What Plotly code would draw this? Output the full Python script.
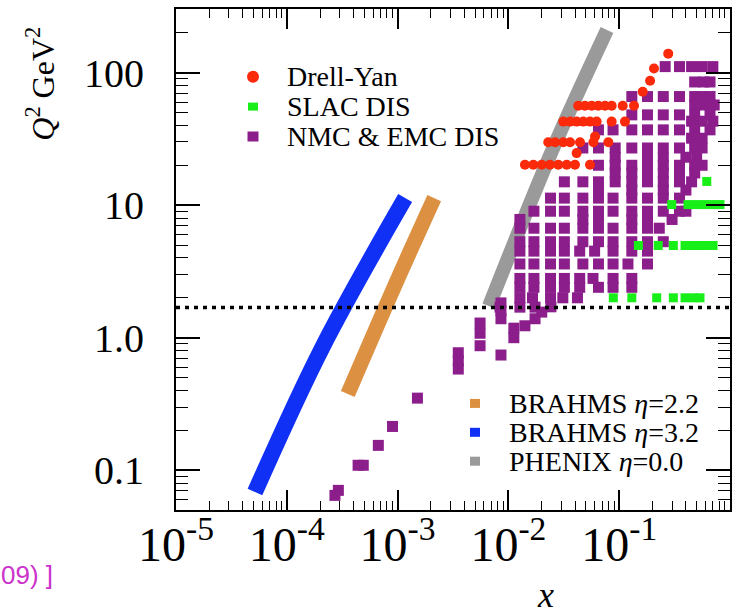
import plotly.graph_objects as go

# ---------------- data ----------------
# BRAHMS / PHENIX kinematic bands (x, Q^2 along the band centre)
brahms32_x = [5.16e-5, 2.09e-4, 1.17e-3]
brahms32_q2 = [0.0685, 0.843, 11.3]
brahms22_x = [3.55e-4, 9.82e-4, 2.14e-3]
brahms22_q2 = [0.376, 2.67, 11.3]
phenix_x = [6.68e-3, 0.0246, 0.0776]
phenix_q2 = [1.73, 25.4, 210]

# Drell-Yan
dy_x = [0.0141, 0.0168, 0.0200, 0.0237, 0.0282, 0.0336, 0.0399, 0.0545,
        0.0413,
        0.0229, 0.0264, 0.0313, 0.0360, 0.0443, 0.0585, 0.0798, 0.0605,
        0.0313, 0.0360, 0.0413, 0.0474, 0.0545, 0.0626, 0.0855, 0.1127,
        0.0427, 0.0491, 0.0565, 0.0648, 0.0745, 0.0855, 0.1076, 0.136,
        0.163, 0.190, 0.206, 0.277]
dy_q2 = [20.2, 20.2, 20.2, 20.2, 20.2, 20.2, 20.2, 20.2,
         24.7,
         29.8, 29.8, 29.8, 29.8, 29.8, 29.8, 29.8, 33.0,
         42.7, 42.7, 42.7, 42.7, 42.7, 42.7, 42.7, 42.7,
         56.3, 56.3, 56.3, 56.3, 56.3, 56.3, 56.3, 56.3,
         71.8, 86.9, 107.5, 139.0]

# SLAC DIS
slac_x = [0.617,
          0.298, 0.418, 0.493, 0.582, 0.688, 0.812,
          0.149, 0.225, 0.308, 0.393, 0.454, 0.525, 0.607, 0.703,
          0.0885, 0.130, 0.218, 0.308, 0.393, 0.467, 0.536]
slac_q2 = [15.1,
           10.1, 10.1, 10.1, 10.1, 10.1, 10.1,
           4.96, 4.96, 4.96, 4.96, 4.96, 4.96, 4.96, 4.96,
           2.0, 2.0, 2.0, 2.0, 2.0, 2.0, 2.0]

# NMC & EMC DIS
nmc_x = [
    0.26, 0.35, 0.45, 0.56, 0.70,
    0.48, 0.58, 0.66,
    0.13, 0.18, 0.25, 0.35, 0.48, 0.56, 0.66,
    0.48, 0.56, 0.66, 0.72,
    0.13, 0.18, 0.25, 0.35, 0.48, 0.66,
    0.45, 0.56, 0.70,
    0.065, 0.088, 0.13, 0.18, 0.25, 0.35, 0.48, 0.66,
    0.45, 0.56,
    0.047, 0.065, 0.092, 0.13, 0.18, 0.25, 0.35, 0.48, 0.56,
    0.092, 0.18, 0.25, 0.40, 0.50,
    0.065, 0.092, 0.13, 0.18, 0.25, 0.35, 0.48, 0.56,
    0.092, 0.13, 0.18, 0.25, 0.35, 0.48,
    0.032, 0.047, 0.065, 0.092, 0.13, 0.18, 0.25, 0.35, 0.45,
    0.065, 0.13, 0.25, 0.40,
    0.024, 0.032, 0.047, 0.065, 0.088, 0.13, 0.18, 0.25, 0.35,
    0.017, 0.024, 0.032, 0.047, 0.065, 0.088, 0.13, 0.18, 0.25, 0.35, 0.40,
    0.0127, 0.047, 0.065, 0.13, 0.18, 0.30,
    0.0127, 0.017, 0.024, 0.032, 0.047, 0.065, 0.088, 0.13, 0.18, 0.23,
    0.0127, 0.017, 0.024, 0.032, 0.047, 0.065, 0.088, 0.13, 0.18, 0.25,
    0.0127, 0.017, 0.024, 0.032, 0.044, 0.060, 0.088, 0.13, 0.18,
    0.0127, 0.017, 0.024, 0.032, 0.047, 0.065, 0.088, 0.12, 0.18,
    0.0127, 0.017, 0.024, 0.032, 0.044, 0.058, 0.088, 0.13,
    0.0127, 0.017, 0.024, 0.032, 0.044, 0.065, 0.088, 0.13,
    0.0127, 0.0165, 0.024, 0.031, 0.042,
    0.0084, 0.0127, 0.0174,
    0.0242, 0.020, 0.0174, 0.0141, 0.0112, 0.0112,
    0.00857, 0.00857, 0.00857, 0.00857,
    0.00555, 0.00555, 0.00555,
    0.00353, 0.00353, 0.00353,
    0.00151, 0.00090, 0.00067, 0.00044, 0.00049, 0.000292, 0.000272,
]
nmc_q2 = [
    111, 111, 111, 111, 111,
    85, 85, 85,
    66, 66, 66, 66, 66, 66, 66,
    57, 57, 57, 57,
    48, 48, 48, 48, 48, 48,
    43, 43, 43,
    37, 37, 37, 37, 37, 37, 37, 37,
    32, 32,
    27, 27, 27, 27, 27, 27, 27, 27, 27,
    23, 23, 23, 23, 23,
    20, 20, 20, 20, 20, 20, 20, 20,
    17.5, 17.5, 17.5, 17.5, 17.5, 17.5,
    15, 15, 15, 15, 15, 15, 15, 15, 15,
    13, 13, 13, 13,
    11.3, 11.3, 11.3, 11.3, 11.3, 11.3, 11.3, 11.3, 11.3,
    9.0, 9.0, 9.0, 9.0, 9.0, 9.0, 9.0, 9.0, 9.0, 9.0, 9.0,
    7.8, 7.8, 7.8, 7.8, 7.8, 7.8,
    6.7, 6.7, 6.7, 6.7, 6.7, 6.7, 6.7, 6.7, 6.7, 6.7,
    5.3, 5.3, 5.3, 5.3, 5.3, 5.3, 5.3, 5.3, 5.3, 5.3,
    4.5, 4.5, 4.5, 4.5, 4.5, 4.5, 4.5, 4.5, 4.5,
    3.6, 3.6, 3.6, 3.6, 3.6, 3.6, 3.6, 3.6, 3.6,
    2.8, 2.8, 2.8, 2.8, 2.8, 2.8, 2.8, 2.8,
    2.4, 2.4, 2.4, 2.4, 2.4, 2.4, 2.4, 2.4,
    2.0, 2.0, 2.0, 2.0, 2.0,
    1.7, 1.7, 1.7,
    1.71, 1.56, 1.39, 1.23, 1.18, 1.0,
    1.83, 1.60, 1.39, 0.74,
    1.29, 1.08, 0.87,
    0.77, 0.67, 0.58,
    0.35, 0.214, 0.154, 0.109, 0.109, 0.0705, 0.0646,
]

q2_cut = 1.69  # dotted line

x_tickvals = [1e-5, 1e-4, 1e-3, 1e-2, 1e-1, 1]
x_ticktext = ["10<sup>-5</sup>", "10<sup>-4</sup>", "10<sup>-3</sup>",
              "10<sup>-2</sup>", "10<sup>-1</sup>", "1"]
y_tickvals = [0.1, 1, 10, 100]
y_ticktext = ["0.1", "1.0", "10", "100"]

legend1_labels = ["Drell-Yan", "SLAC DIS", "NMC &amp; EMC DIS"]
legend2_labels = ["BRAHMS <i>η</i>=2.2", "BRAHMS <i>η</i>=3.2", "PHENIX <i>η</i>=0.0"]

# ---------------- styling ----------------
BLUE = "#1030f5"
ORANGE = "#dc9142"
GRAY = "#9a9a9a"
RED = "#fa2a0a"
GREEN = "#18ee18"
PURPLE = "#8c1e8c"
SERIF = "Liberation Serif, Times New Roman, serif"

fig = go.Figure()
fig.add_trace(go.Scatter(x=brahms32_x, y=brahms32_q2, mode="lines",
                         line=dict(color=BLUE, width=16, shape="spline"), showlegend=False))
fig.add_trace(go.Scatter(x=brahms22_x, y=brahms22_q2, mode="lines",
                         line=dict(color=ORANGE, width=15, shape="spline"), showlegend=False))
fig.add_trace(go.Scatter(x=phenix_x, y=phenix_q2, mode="lines",
                         line=dict(color=GRAY, width=14, shape="spline"), showlegend=False))
fig.add_trace(go.Scatter(x=nmc_x, y=nmc_q2, mode="markers",
                         marker=dict(symbol="square", size=11, color=PURPLE, line=dict(width=0)),
                         showlegend=False))
fig.add_trace(go.Scatter(x=slac_x, y=slac_q2, mode="markers",
                         marker=dict(symbol="square", size=9, color=GREEN, line=dict(width=0)),
                         showlegend=False))
fig.add_trace(go.Scatter(x=dy_x, y=dy_q2, mode="markers",
                         marker=dict(symbol="circle", size=10, color=RED, line=dict(width=0)),
                         showlegend=False))
fig.add_trace(go.Scatter(x=[x_tickvals[0], x_tickvals[-1]], y=[q2_cut, q2_cut], mode="lines",
                         line=dict(color="black", width=3.5, dash="4px,5px"), showlegend=False))

minor_x = [m * 10.0 ** e for e in range(-5, 0) for m in range(2, 10)]
minor_y = [m * 10.0 ** e for e in range(-2, 3) for m in range(2, 10) if 0.05 <= m * 10.0 ** e <= 300]

fig.update_xaxes(type="log", range=[-5, 0], tickmode="array", tickvals=x_tickvals,
                 ticktext=x_ticktext, ticks="inside", ticklen=20, tickwidth=1.5,
                 tickcolor="black", showline=True, linecolor="black", linewidth=2,
                 mirror="allticks", showgrid=False, zeroline=False,
                 tickfont=dict(family=SERIF, size=48, color="black"),
                 ticklabelstandoff=-9,
                 minor=dict(tickmode="array", tickvals=minor_x, ticks="inside", ticklen=9,
                            tickwidth=1.2, tickcolor="black", showgrid=False))
fig.update_yaxes(type="log", range=[-1.30, 2.48], tickmode="array", tickvals=y_tickvals,
                 ticktext=y_ticktext, ticks="inside", ticklen=24, tickwidth=1.5,
                 tickcolor="black", showline=True, linecolor="black", linewidth=2,
                 mirror="allticks", showgrid=False, zeroline=False,
                 tickfont=dict(family=SERIF, size=40, color="black"),
                 ticklabelstandoff=22,
                 minor=dict(tickmode="array", tickvals=minor_y, ticks="inside", ticklen=12,
                            tickwidth=1.2, tickcolor="black", showgrid=False))

W, H = 740, 616
L, R, T, B = 176, 10, 7, 106
PW, PH = W - L - R, H - T - B


def px(xp):
    return (xp - L) / PW


def py(yp):
    return (H - B - yp) / PH


annotations = [
    dict(text="<i>Q</i><sup>2</sup> GeV<sup>2</sup>", textangle=-90, x=px(40), y=py(82),
         xref="paper", yref="paper", xanchor="center", yanchor="middle", showarrow=False,
         font=dict(family=SERIF, size=32, color="black")),
    dict(text="<i>x</i>", x=px(545), y=py(595), xref="paper", yref="paper",
         xanchor="center", yanchor="middle", showarrow=False,
         font=dict(family=SERIF, size=36, color="black")),
    dict(text="09) ]", x=px(-1), y=py(575), xref="paper", yref="paper",
         xanchor="left", yanchor="middle", showarrow=False,
         font=dict(family="Liberation Sans, Arial, sans-serif", size=26, color="#cc33cc")),
]
shapes = []
leg1_rows = [75, 105, 135]
leg1_styles = [("circle", RED, 6, 6), ("rect", GREEN, 5, 4), ("rect", PURPLE, 5.5, 5)]
for lab, yy, (kind, col, hw, hh) in zip(legend1_labels, leg1_rows, leg1_styles):
    annotations.append(dict(text=lab, x=px(285), y=py(yy), xref="paper", yref="paper",
                            xanchor="left", yanchor="middle", showarrow=False,
                            font=dict(family=SERIF, size=28, color="black")))
    shapes.append(dict(type=kind, xref="paper", yref="paper", xsizemode="pixel",
                       ysizemode="pixel", xanchor=px(253), yanchor=py(yy),
                       x0=-hw, x1=hw, y0=-hh, y1=hh, fillcolor=col, line=dict(width=0)))
leg2_rows = [403, 432, 461]
leg2_cols = [ORANGE, BLUE, GRAY]
for lab, yy, col in zip(legend2_labels, leg2_rows, leg2_cols):
    annotations.append(dict(text=lab, x=px(507), y=py(yy), xref="paper", yref="paper",
                            xanchor="left", yanchor="middle", showarrow=False,
                            font=dict(family=SERIF, size=28, color="black")))
    shapes.append(dict(type="rect", xref="paper", yref="paper", xsizemode="pixel",
                       ysizemode="pixel", xanchor=px(475), yanchor=py(yy),
                       x0=-5, x1=5, y0=-4.5, y1=4.5, fillcolor=col, line=dict(width=0)))

fig.update_layout(width=W, height=H, autosize=False,
                  margin=dict(l=L, r=R, t=T, b=B, pad=0),
                  paper_bgcolor="white", plot_bgcolor="white",
                  showlegend=False, annotations=annotations, shapes=shapes)

fig.write_html("out.html", config={"displayModeBar": False},
               post_script="document.body.style.margin='0';")
